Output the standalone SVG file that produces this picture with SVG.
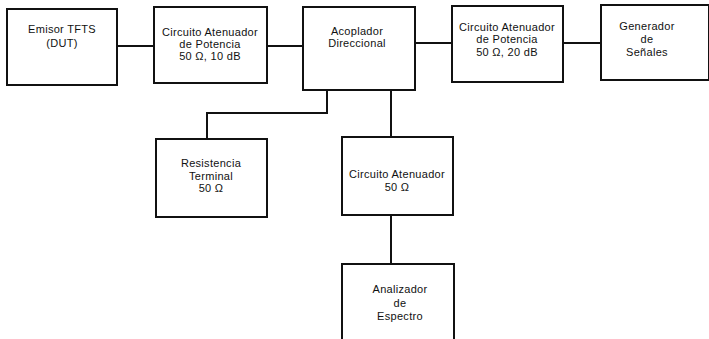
<svg xmlns="http://www.w3.org/2000/svg" width="709" height="339" viewBox="0 0 709 339">
<style>
.box{fill:#fff;stroke:#111;stroke-width:2}
.con{fill:none;stroke:#111;stroke-width:2}
text{font-family:"Liberation Sans",Arial,sans-serif;font-size:11px;letter-spacing:0.3px;fill:#111;text-anchor:middle}
</style>
<rect width="709" height="339" fill="#fff"/>
<g id="connectors">
<line class="con" x1="117" y1="46" x2="154" y2="46"/>
<line class="con" x1="267" y1="46" x2="303" y2="46"/>
<line class="con" x1="415" y1="43" x2="452" y2="43"/>
<line class="con" x1="563" y1="43" x2="601" y2="43"/>
<polyline class="con" points="327,90 327,113 207,113 207,139"/>
<line class="con" x1="391" y1="90" x2="391" y2="137"/>
<line class="con" x1="391" y1="215" x2="391" y2="264"/>
</g>
<g id="emisor">
<rect class="box" x="7" y="9" width="110" height="76"/>
<text x="62" y="33">Emisor TFTS</text>
<text x="62" y="47">(DUT)</text>
</g>
<g id="atenuador10">
<rect class="box" x="154" y="7" width="113" height="76"/>
<text x="210" y="36">Circuito Atenuador</text>
<text x="210" y="48">de Potencia</text>
<text x="210" y="60">50 Ω, 10 dB</text>
</g>
<g id="acoplador">
<rect class="box" x="303" y="7" width="112" height="83"/>
<text x="357" y="35">Acoplador</text>
<text x="357" y="47">Direccional</text>
</g>
<g id="atenuador20">
<rect class="box" x="452" y="6" width="111" height="76"/>
<text x="507" y="31">Circuito Atenuador</text>
<text x="507" y="43">de Potencia</text>
<text x="507" y="56">50 Ω, 20 dB</text>
</g>
<g id="generador">
<rect class="box" x="601" y="5" width="108" height="75"/>
<text x="647" y="30">Generador</text>
<text x="647" y="43">de</text>
<text x="647" y="56">Señales</text>
</g>
<g id="resistencia">
<rect class="box" x="156" y="139" width="111" height="78"/>
<text x="211" y="167">Resistencia</text>
<text x="211" y="180">Terminal</text>
<text x="211" y="192">50 Ω</text>
</g>
<g id="atenuador50">
<rect class="box" x="342" y="137" width="111" height="78"/>
<text x="397" y="178">Circuito Atenuador</text>
<text x="397" y="191">50 Ω</text>
</g>
<g id="analizador">
<rect class="box" x="342" y="264" width="112" height="80"/>
<text x="400" y="293">Analizador</text>
<text x="400" y="307">de</text>
<text x="400" y="320">Espectro</text>
</g>
</svg>
